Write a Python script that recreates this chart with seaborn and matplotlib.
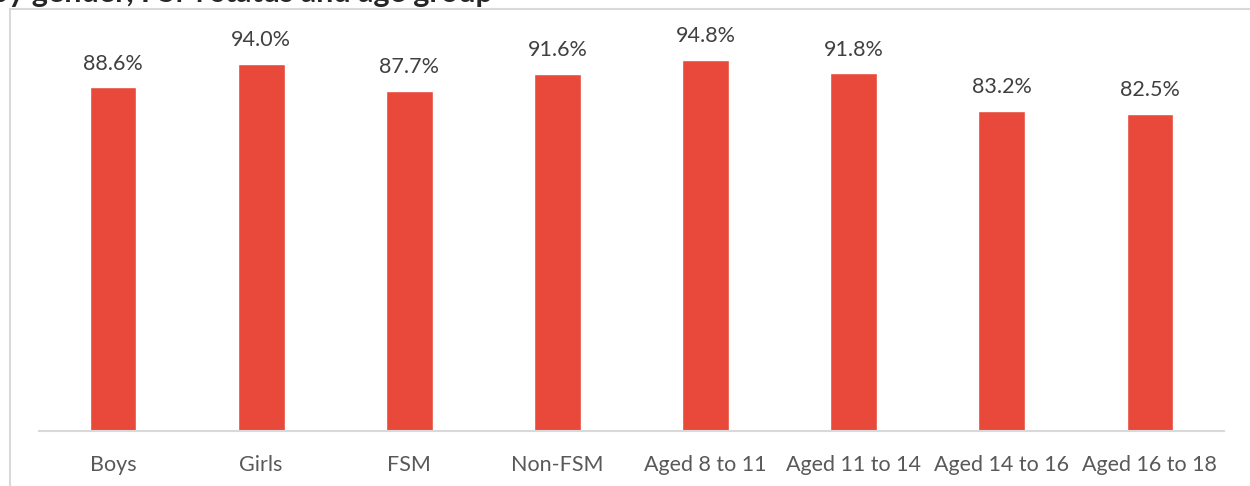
import matplotlib
matplotlib.use("Agg")
import matplotlib.pyplot as plt
import seaborn as sns
import pandas as pd
from matplotlib.patches import Rectangle

categories = ["Boys", "Girls", "FSM", "Non-FSM", "Aged 8 to 11",
              "Aged 11 to 14", "Aged 14 to 16", "Aged 16 to 18"]
values = [88.6, 94.0, 87.7, 91.6, 94.8, 91.8, 83.2, 82.5]
value_labels = ["88.6%", "94.0%", "87.7%", "91.6%", "94.8%", "91.8%", "83.2%", "82.5%"]
title_text = "by gender, FSM status and age group"

df = pd.DataFrame({"group": categories, "pct": values})

sns.set_theme(style="white")
plt.rcParams["font.family"] = ["Lato", "DejaVu Sans"]

W, H = 1250, 486
fig = plt.figure(figsize=(W / 100, H / 100), dpi=100)
ax = fig.add_axes([39 / W, 1 - 431 / H, (1224 - 39) / W, (431 - 37.6) / H])

sns.barplot(data=df, x="group", y="pct", color="#E8493A", saturation=1,
            width=0.315, ax=ax)

ax.set_ylim(10, 100)
ax.set_xlim(-0.5, len(categories) - 0.5)
ax.set_xlabel("")
ax.set_ylabel("")
ax.set_yticks([])
ax.tick_params(axis="x", length=0, pad=17, labelsize=15.5, labelcolor="#595959")
for s in ["top", "right", "left"]:
    ax.spines[s].set_visible(False)
ax.spines["bottom"].set_color("#D9D9D9")
ax.spines["bottom"].set_linewidth(1.5)

for i, (v, lab) in enumerate(zip(values, value_labels)):
    ax.annotate(lab, (i, v), xytext=(0, 10), textcoords="offset points",
                ha="center", va="bottom", fontsize=15.5, color="#404040")

# chart frame
fig.patches.append(Rectangle((10 / W, -0.1), 1.2, 1 - 9 / H + 0.1,
                             transform=fig.transFigure, fill=False,
                             edgecolor="#D9D9D9", linewidth=1.5))

fig.text(493 / W, 1 - 2 / H, title_text, ha="right", va="baseline",
         fontsize=22, fontweight="bold", color="#262626")

fig.savefig("out.png", dpi=100)
